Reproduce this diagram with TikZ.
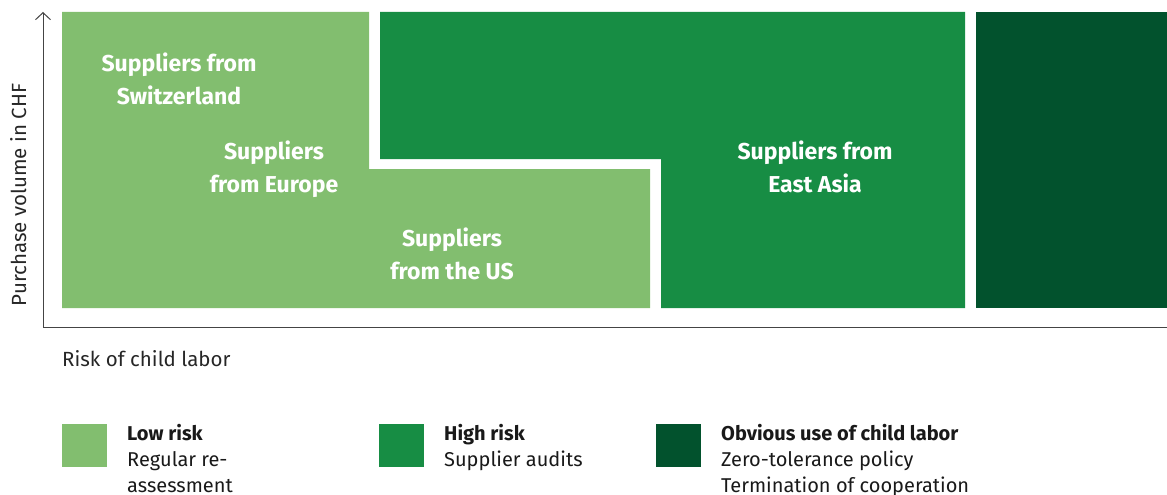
\documentclass[tikz,border=0pt]{standalone}
\usepackage{fontspec}
\setmainfont{Fira Sans}
\usetikzlibrary{arrows.meta}
\definecolor{lowg}{HTML}{82BE6F}
\definecolor{highg}{HTML}{178D44}
\definecolor{darkg}{HTML}{02522D}
\definecolor{axisc}{HTML}{444444}
\begin{document}
\begin{tikzpicture}[x=1pt,y=-1pt,
  boxlabel/.style={text=white,font=\bfseries\fontsize{23}{33}\selectfont,align=center,inner sep=0pt,anchor=base},
  axisline/.style={draw=axisc,line width=1pt},
  axislabel/.style={font=\fontsize{20.5}{24}\selectfont,inner sep=0pt,text=black!85},
  legsq/.style={minimum width=45pt,minimum height=43pt,inner sep=0pt,draw=none},
  legtext/.style={font=\fontsize{20}{26}\selectfont,align=left,inner sep=0pt,anchor=base west,text=black!90}]
\useasboundingbox (0,0) rectangle (1167,495);
% regions
\fill[lowg] (62,12) -- (369,12) -- (369,169) -- (650,169) -- (650,308) -- (62,308) -- cycle;
\fill[highg] (380,12) -- (965,12) -- (965,308) -- (661,308) -- (661,159) -- (380,159) -- cycle;
\fill[darkg] (976,12) rectangle (1167,308);
% axes
\coordinate (origin) at (43,327);
\coordinate (ytop) at (43,12);
\coordinate (xend) at (1167,327);
\draw[axisline,-{Straight Barb[length=7pt,width=15pt]}] (origin) -- (ytop);
\draw[axisline] (origin) -- (xend);
\node[axislabel,rotate=90,anchor=base] (ylab) at (26,195) {Purchase volume in CHF};
\node[axislabel,anchor=base west] (xlab) at (62,366.5) {Risk of child labor};
% region labels (anchored at the baseline of their last line)
\node[boxlabel] (ch) at (179,104) {Suppliers from\\Switzerland};
\node[boxlabel] (eu) at (274,192) {Suppliers\\from Europe};
\node[boxlabel] (us) at (452,279) {Suppliers\\from the US};
\node[boxlabel] (ea) at (815,192) {Suppliers from\\East Asia};
% legend
\node[legsq,fill=lowg] (sq1) at (84.7,445.7) {};
\node[legsq,fill=highg] (sq2) at (401.8,445.7) {};
\node[legsq,fill=darkg] (sq3) at (678.8,445.7) {};
\node[legtext] (l1) at (127,492.7) {\textbf{Low risk}\\Regular re-\\assessment};
\node[legtext] (l2) at (444,466.7) {\textbf{High risk}\\Supplier audits};
\node[legtext] (l3) at (721,492.7) {\textbf{Obvious use of child labor}\\Zero-tolerance policy\\Termination of cooperation};
\end{tikzpicture}
\end{document}
